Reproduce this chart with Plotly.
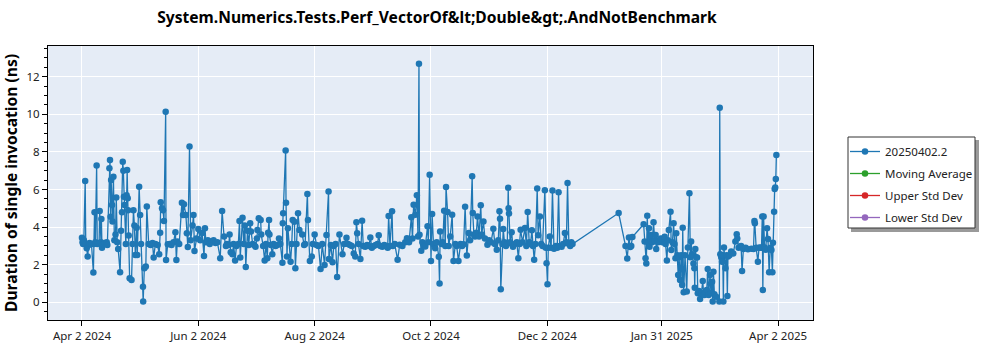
import pandas as pd
import plotly.graph_objects as go

title_text = "System.Numerics.Tests.Perf_VectorOf&amp;lt;Double&amp;gt;.AndNotBenchmark"
y_title = "Duration of single invocation (ns)"
series_names = ["20250402.2", "Moving Average", "Upper Std Dev", "Lower Std Dev"]
series_colors = ["#1f77b4", "#2ca02c", "#d62728", "#9467bd"]

start_date = "2024-04-02"
tick_dates = ["2024-04-02", "2024-06-02", "2024-08-02", "2024-10-02", "2024-12-02", "2025-01-31", "2025-04-02"]
tick_labels = ["Apr 2 2024", "Jun 2 2024", "Aug 2 2024", "Oct 2 2024", "Dec 2 2024", "Jan 31 2025", "Apr 2 2025"]

# days since 2024-04-02
days_since_start = [
    0, 0.3, 0.6, 1, 1.7, 2, 2.5, 3, 3.5, 4, 5, 6, 6.3, 6.6, 7, 7.7, 8, 9, 9.3, 10,
    10.2, 10.5, 11, 12, 13, 13.3, 14.4, 14.7, 15, 15.3, 15.8, 16, 16.5, 17, 17.6, 18, 18.5, 19, 20, 20.5,
    21, 21.4, 21.7, 22, 22.3, 23, 23.4, 23.7, 24, 24.2, 24.5, 25, 26, 26.5, 27, 27.5, 28, 28.7, 29, 30,
    30.5, 31, 32, 32.1, 32.7, 33.5, 34, 35, 36, 37, 37.6, 38.5, 39.7, 40.5, 41, 41.3, 42, 42.5, 43, 43.9,
    44.1, 45, 46, 47, 48, 49, 49.5, 50, 51, 52.4, 53, 53.5, 54.5, 55, 55.5, 56.4, 57, 58, 58.5, 59,
    60, 61, 62, 63, 64, 64.5, 65, 66, 67, 68, 69, 70, 71, 72.5, 73.5,
    74.5, 75.5, 76, 77, 77.4, 78, 78.9, 79.5, 80.3, 81, 82, 82.6, 83, 84.2, 84.8, 85.4, 85.9, 86.8, 87.5, 88.2,
    88.6, 89.5, 90.3, 91, 91.7, 92, 92.7, 93.7, 94, 95, 95.8, 96.5, 97.2, 97.6, 98.1, 98.3, 99, 99.8, 100.5, 101.5,
    102.5, 103.3, 104, 105.1, 105.3, 105.5, 106.8, 107, 107.5, 108, 109.4, 110, 110.5, 111.4, 111.9, 112.5, 113.3, 114, 115.5, 116.5,
    117, 118.2, 118.5, 119.5, 120.5, 121, 122, 123, 124, 125.1, 126, 127.2, 128.2, 129.3, 129.5, 130.5, 131.4, 132, 133, 133.8,
    135, 136.6, 137.5, 138.7, 139.5, 140.5, 141.5, 142.5, 143.3, 143.9, 144.3, 145, 146,
    146.9, 147.5, 148.5, 149.5, 150.5, 151.2, 152, 153, 154, 155, 155.6, 156.5, 157.5, 158.5, 159.5, 160.3, 160.8, 161.5, 162.6, 163,
    164, 165.5, 166.6, 168, 169.5, 170.4, 171.5, 172.7, 173.3, 173.9, 174.8, 175.6, 176.2, 176.7, 177, 177.9, 178.5, 179.3, 180, 181.2,
    181.6, 182.3, 183, 183.6, 184.3, 185.2, 186, 187.1, 187.5, 187.8, 188.5, 189.2, 189.9, 190.5, 190.9, 191.7, 192.3, 193.1, 194.1, 194.8,
    195.8, 196.5, 197.4, 198.5, 199.3, 200.1, 200.9, 201.8, 202.8, 203.5, 204.6, 204.9, 205.5, 206.1, 206.8, 207.4, 208.2, 209.1, 209.6, 210.5,
    211.3, 212.6, 213.5, 214.5, 215.7, 216.5, 217.5, 218.3, 218.9, 219.2, 219.6,
    220.5, 220.9, 221.5, 222.3, 223, 223.5, 223.7, 223.9, 224.5, 225.3, 226, 227, 228, 228.8, 229.5, 230, 231, 232.3, 233, 233.7,
    234.5, 235.2, 235.9, 236.5, 237.1, 237.8, 238.7, 239.2, 240.1, 240.8, 241.5, 242.7, 243.2, 243.6, 244.1, 244.5, 245.3, 246, 246.7, 247.5,
    248.5, 249.2, 249.9, 250.5, 251.5, 252.3, 253.2, 254, 254.6, 255.3, 256, 256.6, 257.2,
    281.4, 285, 285.9, 286.8, 287.5, 288, 288.6,
    294.5, 295, 295.5, 295.9, 296.4, 296.8, 297.3, 297.6, 298, 298.5, 299, 299.7, 300.3, 300.8, 301.1, 302, 302.8, 303.5, 304.3, 305.5,
    306, 306.7, 307.2, 307.7, 308.6, 309, 309.6, 310.2, 310.7, 311.2, 311.6, 312.2, 312.6, 313.1, 313.6, 314.2, 314.7, 315, 315.5, 316.2,
    317.1, 317.7, 318.5, 319, 319.4, 319.9, 320.6, 321.1, 321.3, 321.6, 322.1, 322.5, 322.9, 323.5, 324.1, 324.8, 325.5, 326, 326.4, 327,
    327.6, 328.1, 328.6, 329.3, 329.8, 330.4, 330.7, 331.1, 331.6, 332.5, 334.2, 334.4, 334.7, 335.2, 335.6, 336, 336.3, 336.6, 337.4, 338,
    338.4, 338.7, 339.5, 340.4, 341.5, 342.6, 343.3, 343.6, 344.3, 345.1, 345.6, 346.1, 346.8, 348, 349.2, 351, 352.1, 352.6, 352.8, 353.5,
    354.4, 355, 355.6, 356.3, 356.7, 357, 357.4, 357.9, 358.5, 359.2, 359.7, 360.3, 360.9, 361.5, 362, 362.3, 362.9, 363.2, 363.5, 363.8,
    364.1,
]

duration_ns = [
    3.44, 3.2, 3.1, 3.3, 6.45, 3.1, 2.87, 2.43, 3.05, 3.15, 3.1, 1.58, 3.1, 4.79, 3.2, 7.27, 3.1, 3.15, 4.86, 3.2,
    4.43, 2.9, 3.1, 3.15, 3.2, 3.05, 7.13, 7.57, 4.55, 6.5, 5.17, 4.3, 6.68, 3.3, 3.6, 5.57, 3.2, 2.84, 1.6, 3.8,
    4.79, 7.48, 6.99, 5.62, 5.18, 3.1, 5.7, 7.04, 5.53, 4.9, 3.55, 1.28, 1.19, 3.1, 4.9, 4.08, 2.52, 3.97, 2.52, 6.15,
    4.65, 3.1, 0.83, 0.04, 1.81, 1.9, 5.09, 3.1, 3.05, 3.15, 2.38, 3.1, 3.05, 2.55, 3.7, 5.32, 5.0, 4.9, 4.33, 10.14,
    2.25, 3.09, 3.1, 3.05, 3.2, 3.72, 2.25, 3.23, 3.1, 5.3, 4.65, 5.21, 4.65, 3.67, 2.94, 8.28, 3.3, 4.08, 4.65, 2.73,
    3.4, 3.9, 3.3, 3.69, 2.46, 3.94, 3.2, 3.3, 3.1, 3.25, 3.3, 3.15, 3.2, 2.34, 4.86,
    3.5, 3.0, 3.1, 3.05, 3.6, 2.66, 2.55, 3.1, 2.22, 3.0, 3.1, 4.33, 2.38, 4.5, 3.1, 4.08, 1.88, 3.8, 3.05, 4.2,
    3.76, 3.1, 3.05, 2.95, 3.4, 3.85, 4.47, 4.38, 3.6, 3.0, 2.22, 3.1, 2.34, 3.7, 4.38, 3.6, 3.05, 2.55, 3.1, 3.0,
    3.05, 3.4, 3.1, 2.11, 4.2, 4.73, 8.07, 5.3, 2.43, 3.94, 2.16, 3.1, 4.38, 4.29, 1.81, 3.1, 4.73, 3.85, 3.6, 3.05,
    3.1, 5.76, 4.38, 2.2, 2.43, 3.1, 3.6, 3.05, 3.0, 1.77, 3.1, 1.99, 3.58, 5.89, 2.3, 3.05, 2.13, 3.0, 3.1, 1.35,
    3.6, 2.55, 3.1, 3.44, 3.1, 3.05, 3.0, 2.6, 2.43, 4.26, 3.67, 3.1, 2.3,
    4.34, 3.0, 2.95, 3.05, 3.0, 3.45, 2.9, 3.0, 3.05, 3.1, 3.56, 3.0, 2.95, 3.05, 3.0, 2.9, 4.59, 3.0, 4.84, 3.0,
    3.1, 2.26, 3.06, 3.0, 3.2, 3.41, 3.2, 4.52, 3.4, 5.19, 4.66, 5.69, 3.5, 12.69, 3.59, 2.74, 3.2, 3.0, 2.97, 4.04,
    3.2, 6.79, 2.2, 4.69, 3.1, 2.88, 3.2, 2.42, 1.0, 3.77, 3.1, 3.2, 4.87, 3.0, 6.13, 4.8, 3.0, 3.5, 4.66, 2.2,
    3.1, 3.0, 2.2, 3.1, 3.0, 3.09, 5.08, 2.49, 3.68, 3.3, 6.7, 4.75, 3.6, 3.5, 3.7, 4.57, 3.5, 5.16, 3.6, 4.3,
    3.4, 3.06, 3.3, 3.2, 3.91, 3.1, 2.79, 3.3, 4.84, 4.44, 0.69,
    3.1, 3.9, 3.2, 3.0, 3.1, 6.09, 5.0, 4.72, 3.2, 3.72, 2.95, 3.1, 3.2, 2.35, 3.1, 3.86, 3.2, 3.95, 3.0, 4.8,
    3.2, 3.1, 3.83, 3.0, 2.26, 3.1, 6.05, 3.56, 4.57, 3.1, 3.0, 5.96, 2.9, 2.08, 0.96, 2.9, 3.5, 2.9, 5.94, 2.85,
    3.0, 2.9, 5.85, 3.0, 2.95, 3.1, 3.68, 3.2, 6.35, 3.1, 3.0, 3.2, 3.1,
    4.75, 3.0, 2.33, 3.45, 2.94, 3.0, 3.47,
    4.15, 3.23, 2.34, 2.07, 4.61, 3.2, 3.94, 2.96, 3.3, 3.58, 3.2, 4.26, 3.3, 3.58, 2.84, 3.2, 3.32, 3.4, 3.2, 3.49,
    3.1, 2.22, 3.3, 3.85, 4.82, 2.78, 3.2, 4.2, 3.1, 2.34, 3.67, 2.5, 1.45, 2.4, 1.19, 2.5, 0.92, 3.97, 0.53, 2.5,
    0.57, 2.91, 5.8, 2.4, 3.23, 2.55, 2.07, 1.81, 0.78, 2.84, 2.4, 2.38, 0.48, 0.6, 0.18, 0.5, 1.13, 0.4, 0.39, 0.55,
    0.66, 1.77, 0.39, 1.45, 0.5, 1.1, 0.04, 1.63, 0.43, 0.3, 0.04, 10.35, 2.55, 2.4, 2.16, 2.5, 0.04, 2.91, 1.81, 2.5,
    0.34, 2.43, 2.5, 2.7, 2.6, 3.23, 3.62, 3.4, 2.9, 2.96, 3.0, 1.67, 2.84, 2.9, 2.82, 2.85, 2.84, 4.33, 4.2, 2.9,
    2.16, 2.9, 2.91, 2.9, 4.56, 0.66, 4.56, 2.91, 2.8, 3.94, 3.37, 1.6, 2.9, 2.78, 1.6, 3.17, 4.82, 6.03, 6.1, 6.56,
    7.84,
]

# the three statistic series have no visible points in the reference
moving_average = [None]
upper_std_dev = [None]
lower_std_dev = [None]

dates = pd.Timestamp(start_date) + pd.to_timedelta(days_since_start, unit="D")

FONT = "Noto Sans"
fig = go.Figure()
fig.add_trace(go.Scatter(
    x=dates, y=duration_ns, mode="lines+markers", name=series_names[0],
    line=dict(color=series_colors[0], width=1.3),
    marker=dict(color=series_colors[0], size=6.5),
    legendgroup="g0",
))
for i, vals in enumerate([moving_average, upper_std_dev, lower_std_dev], start=1):
    fig.add_trace(go.Scatter(
        x=[pd.Timestamp(start_date)] * len(vals), y=vals, mode="lines+markers", name=series_names[i],
        line=dict(color=series_colors[i], width=1.3),
        marker=dict(color=series_colors[i], size=6.5),
        legendgroup=f"g{i}",
    ))

L, R, T, B = 48, 187, 46, 30
W, H = 1000, 350
pw, ph = W - L - R, H - T - B

def px_to_paper_x(px):
    return (px - L) / pw

def px_to_paper_y(py):
    return (H - B - py) / ph

# legend frame with drop shadow
fig.add_shape(type="rect", xref="paper", yref="paper",
              x0=px_to_paper_x(851), x1=px_to_paper_x(979),
              y0=px_to_paper_y(232), y1=px_to_paper_y(140),
              fillcolor="#9a9a9a", line=dict(width=0), layer="above")
fig.add_shape(type="rect", xref="paper", yref="paper",
              x0=px_to_paper_x(848), x1=px_to_paper_x(975),
              y0=px_to_paper_y(228), y1=px_to_paper_y(137),
              fillcolor="white", line=dict(color="#333", width=1), layer="above")

fig.update_layout(
    width=W, height=H,
    margin=dict(l=L, r=R, t=T, b=B, autoexpand=False),
    paper_bgcolor="white",
    plot_bgcolor="#e5ecf6",
    font=dict(family=FONT, size=11, color="#333"),
    title=dict(text=title_text, x=437 / W, xanchor="center", y=1 - 18 / H, yanchor="middle",
               font=dict(family=FONT, size=15.6, color="black", weight="bold")),
    legend=dict(x=px_to_paper_x(845), y=px_to_paper_y(137), xanchor="left", yanchor="top",
                bgcolor="rgba(0,0,0,0)", borderwidth=0,
                font=dict(family=FONT, size=11.5, color="#222"),
                tracegroupgap=3),
    showlegend=True,
)
fig.update_xaxes(
    range=[pd.Timestamp(start_date) - pd.Timedelta(days=17.8), pd.Timestamp(start_date) + pd.Timedelta(days=383.3)],
    tickvals=pd.to_datetime(tick_dates), ticktext=tick_labels,
    showgrid=True, gridcolor="white", gridwidth=1,
    showline=True, linecolor="black", linewidth=1, mirror=True,
    ticks="outside", ticklen=5, tickcolor="black",
    tickfont=dict(size=11.5, color="#222"),
    zeroline=False, automargin=False,
)
fig.update_yaxes(
    range=[-0.94, 13.63],
    dtick=2, tick0=0,
    showgrid=True, gridcolor="white", gridwidth=1,
    showline=True, linecolor="black", linewidth=1, mirror=True,
    ticks="outside", ticklen=5, tickcolor="black",
    minor=dict(dtick=0.5, ticks="outside", ticklen=3, tickcolor="black", showgrid=False),
    tickfont=dict(size=11.5, color="#222"),
    zeroline=False, automargin=False,
    title=dict(text=y_title, font=dict(family=FONT, size=15.6, color="black", weight="bold"), standoff=8),
)

fig.write_html("out.html")
